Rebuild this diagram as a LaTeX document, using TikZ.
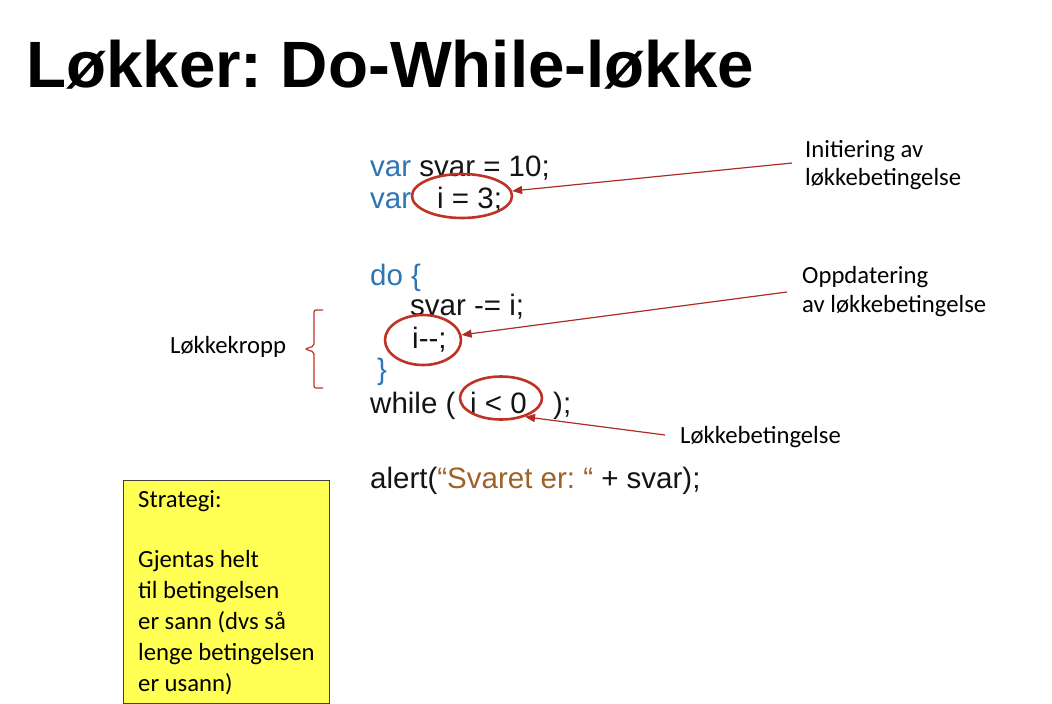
\documentclass[tikz,border=0pt]{standalone}
\usepackage{fontspec}
\setmainfont{Liberation Sans}
\newfontfamily\notefont{Carlito}
\usetikzlibrary{arrows.meta,shapes.geometric}
\definecolor{kwblue}{RGB}{46,117,182}
\definecolor{strbrown}{RGB}{158,98,40}
\definecolor{markred}{RGB}{192,50,38}
\definecolor{noteyellow}{RGB}{255,255,84}
\definecolor{codeblack}{RGB}{20,20,20}
\frenchspacing
\begin{document}
\begin{tikzpicture}[x=1pt,y=-1pt,
  code/.style={anchor=base west,inner sep=0pt,font=\fontsize{29.5}{35}\selectfont,text=codeblack},
  kw/.style={code,text=kwblue},
  note/.style={anchor=base west,inner sep=0pt,font=\notefont\fontsize{24.7}{29}\selectfont,text=black},
  ring/.style={draw=markred,line width=2.6pt,ellipse,inner sep=0pt},
  pointer/.style={draw=markred!90!black,line width=1.2pt,-{Triangle[length=10pt,width=8pt]}},
]
% page
\fill[white] (0,0) rectangle (1052,704);
\useasboundingbox (0,0) rectangle (1052,704);

% heading
\node[anchor=base west,inner sep=0pt,font=\fontsize{65.5}{78}\selectfont\bfseries] (title) at (26,87) {Løkker: Do-While-løkke};

% code listing
\node[code] (c1) at (370,176) {\textcolor{kwblue}{var} svar = 10;};
\node[kw]   (c2a) at (370,208) {var};
\node[code] (c2b) at (437,208) {i = 3;};
\node[kw]   (c3) at (370,285) {do \{};
\node[code] (c4) at (410,315) {svar -= i;};
\node[code] (c5) at (412,348) {i-{}-;};
\node[kw]   (c6) at (377,379) {\}};
\node[code] (c7a) at (370,413) {while (};
\node[code] (c7b) at (470,413) {i < 0};
\node[code] (c7c) at (553,413) {);};
\node[code] (c8) at (370,488) {alert(\textcolor{strbrown}{“Svaret er: “} + svar);};

% highlight rings
\node[ring,minimum width=100pt,minimum height=44pt] (r1) at (462,196) {};
\node[ring,minimum width=76pt,minimum height=50pt] (r2) at (423,340) {};
\node[ring,minimum width=82pt,minimum height=43pt] (r3) at (501,398) {};

% annotations
\node[note] (n1a) at (805,157) {Initiering av};
\node[note] (n1b) at (805,185) {løkkebetingelse};
\node[note] (n2a) at (802,283) {Oppdatering};
\node[note] (n2b) at (802,312) {av løkkebetingelse};
\node[note] (n3) at (680,443) {Løkkebetingelse};
\node[note] (n4) at (170,353) {Løkkekropp};

\coordinate (p1) at (792,163);
\coordinate (p2) at (787,292);
\coordinate (p3) at (665,435);
\draw[pointer] (p1) -- (r1);
\draw[pointer] (p2) -- (r2);
\draw[pointer] (p3) -- (r3.-38);

% brace around the loop body
\draw[markred,line width=1.2pt,rounded corners=2pt]
  (323,310) -- (314,310) -- (314,346) -- (305,349) -- (314,352) -- (314,388) -- (323,388);

% strategy note
\node[draw=black!75,line width=0.9pt,fill=noteyellow,minimum width=206pt,minimum height=223pt,anchor=north west,inner sep=0pt] (box) at (123,480) {};
\node[note] (s1) at (138,507) {Strategi:};
\node[note] (s2) at (138,567) {Gjentas helt};
\node[note] (s3) at (138,598) {til betingelsen};
\node[note] (s4) at (138,629) {er sann (dvs så};
\node[note] (s5) at (138,660) {lenge betingelsen};
\node[note] (s6) at (138,691) {er usann)};
\end{tikzpicture}
\end{document}
